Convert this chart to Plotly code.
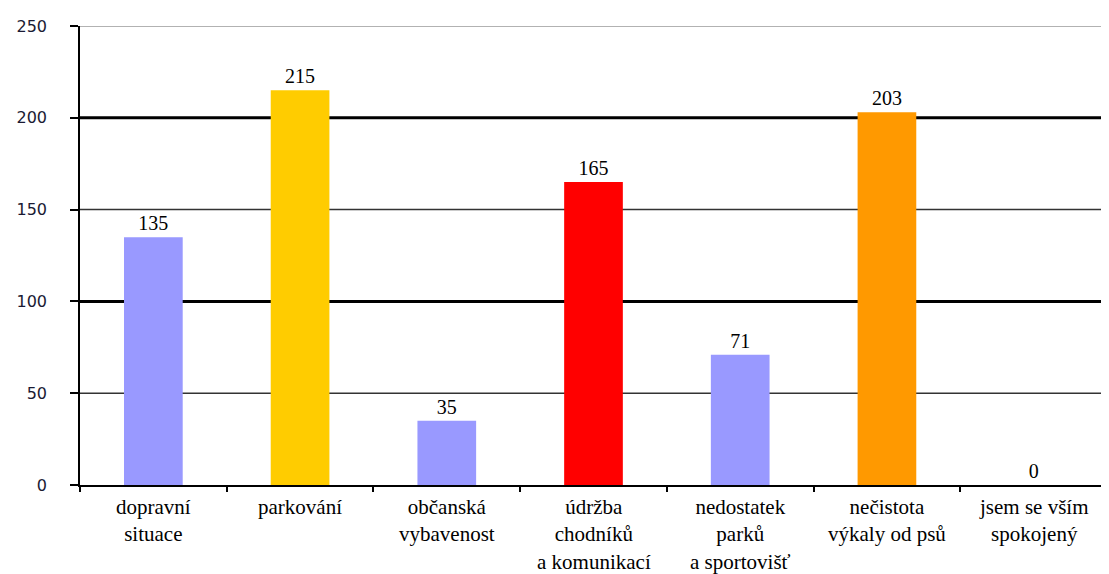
import plotly.graph_objects as go

categories = ["dopravní<br>situace", "parkování", "občanská<br>vybavenost",
              "údržba<br>chodníků<br>a komunikací", "nedostatek<br>parků<br>a sportovišť",
              "nečistota<br>výkaly od psů", "jsem se vším<br>spokojený"]
values = [135, 215, 35, 165, 71, 203, 0]
colors = ["#9999FF", "#FFCC00", "#9999FF", "#FF0000", "#9999FF", "#FF9900", "#9999FF"]
y_ticks = [0, 50, 100, 150, 200, 250]
thick_grid = [100, 200]
thin_grid = [50, 150]

serif = "Times New Roman"
sans = "DejaVu Sans"

fig = go.Figure(go.Bar(
    x=categories, y=values, marker=dict(color=colors, line=dict(width=0)),
    width=0.4, text=[str(v) for v in values], textposition="outside",
    textfont=dict(family=serif, size=20, color="black"), cliponaxis=False,
))

shapes = []
for g in thick_grid:
    shapes.append(dict(type="line", xref="paper", yref="y", x0=0, x1=1, y0=g, y1=g,
                       line=dict(color="black", width=3), layer="below"))
for g in thin_grid:
    shapes.append(dict(type="line", xref="paper", yref="y", x0=0, x1=1, y0=g, y1=g,
                       line=dict(color="#333333", width=1.5), layer="below"))
shapes.append(dict(type="line", xref="paper", yref="y", x0=0, x1=1, y0=250, y1=250,
                   line=dict(color="#999999", width=1.5), layer="below"))
shapes.append(dict(type="line", xref="paper", yref="paper", x0=1, x1=1, y0=0, y1=1,
                   line=dict(color="#999999", width=1.5), layer="below"))

annotations = [dict(x=c, y=0, xref="x", yref="paper", yanchor="top", yshift=-8,
                    text=c, showarrow=False, align="center",
                    font=dict(family=serif, size=21, color="black"))
               for c in categories]

fig.update_layout(
    width=1101, height=566, margin=dict(l=72, r=2, t=18, b=89),
    paper_bgcolor="white", plot_bgcolor="white", showlegend=False,
    shapes=shapes, annotations=annotations,
    font=dict(family=serif, size=20, color="black"),
)
fig.update_yaxes(range=[0, 250], tickvals=y_ticks, showgrid=False, showline=True,
                 linecolor="black", linewidth=1.5, ticks="outside", ticklen=8,
                 tickcolor="black", tickwidth=1.5, ticklabelstandoff=20,
                 tickfont=dict(family=sans, size=16, color="#1a1a33"), zeroline=False,
                 automargin=False)
fig.update_xaxes(showline=True, linecolor="black", linewidth=1.5, ticks="outside",
                 tickson="boundaries", ticklen=5, tickcolor="black", tickwidth=2,
                 showticklabels=False, automargin=False)

fig.write_html("out.html")
